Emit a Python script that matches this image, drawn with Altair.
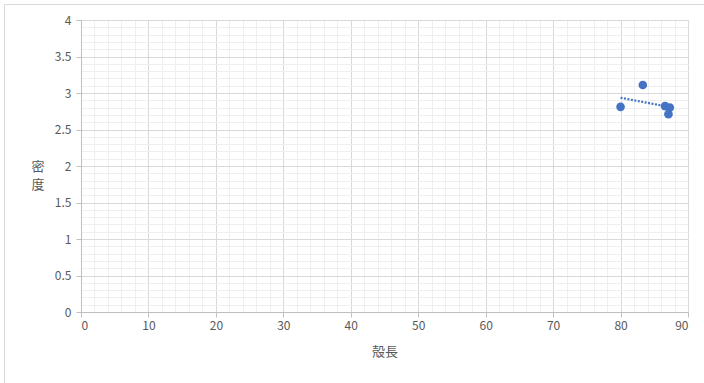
import altair as alt
import pandas as pd

shell_length = [80.0, 83.3, 86.6, 87.3, 87.1]
density = [2.81, 3.11, 2.82, 2.80, 2.71]
y_title = "密\n度"

df = pd.DataFrame({"x": shell_length, "y": density})

W, H = 607, 292
FONT = "Noto Sans CJK JP"
GRAY = "#595959"

xs = alt.Scale(domain=[0, 90], nice=False, zero=False)
ys = alt.Scale(domain=[0, 4], nice=False, zero=False)

base = alt.Chart(df)

minor = base.mark_point(opacity=0).encode(
    x=alt.X("x:Q", scale=xs, axis=alt.Axis(orient="bottom", values=list(range(0, 91, 2)), grid=True,
                                           gridColor="#efefef", labels=False, ticks=False, domain=False,
                                           title=None)),
    y=alt.Y("y:Q", scale=ys, axis=alt.Axis(orient="left", values=[i / 10 for i in range(0, 41)], grid=True,
                                           gridColor="#efefef", labels=False, ticks=False, domain=False,
                                           title=None)),
)

major = base.mark_point(opacity=0).encode(
    x=alt.X("x:Q", scale=xs, axis=alt.Axis(orient="bottom", values=list(range(0, 91, 10)), grid=True,
                                           gridColor="#d9d9d9", format="d",
                                           labelColor=GRAY, labelFontSize=12, labelFont=FONT,
                                           tickColor="#bfbfbf", tickSize=5, domainColor="#bfbfbf",
                                           labelPadding=3,
                                           title="殻長", titleColor=GRAY, titleFont=FONT,
                                           titleFontSize=13, titleFontWeight="normal", titlePadding=14)),
    y=alt.Y("y:Q", scale=ys, axis=alt.Axis(orient="left", values=[i / 2 for i in range(0, 9)], grid=True,
                                           gridColor="#d9d9d9", format="~g",
                                           labelColor=GRAY, labelFontSize=12, labelFont=FONT,
                                           tickColor="#bfbfbf", tickSize=5, domainColor="#bfbfbf",
                                           labelPadding=5, title=None)),
)

points = base.mark_circle(size=75, color="#4472c4", opacity=1).encode(
    x=alt.X("x:Q", axis=None), y=alt.Y("y:Q", axis=None))

trend = base.transform_regression("x", "y").mark_line(
    color="#4472c4", strokeDash=[2, 1.5], strokeWidth=2.2
).encode(x=alt.X("x:Q", axis=None), y=alt.Y("y:Q", axis=None))

border = alt.Chart(pd.DataFrame({"a": [0]})).mark_rect(
    fill=None, stroke="#d9d9d9", strokeWidth=1
).encode(x=alt.value(-76.5), x2=alt.value(700), y=alt.value(-15.5), y2=alt.value(400))

ytitle = alt.Chart(pd.DataFrame({"t": [y_title]})).mark_text(
    font=FONT, fontSize=13, color=GRAY, align="center", baseline="middle",
    lineBreak="\n", lineHeight=18
).encode(text="t:N", x=alt.value(-43), y=alt.value(147))

chart = alt.layer(border, minor, major, trend, points, ytitle).resolve_axis(
    x="independent", y="independent"
).properties(
    width=W, height=H,
    autosize=alt.AutoSizeParams(type="none"),
    padding={"left": 81, "top": 20, "right": 16, "bottom": 71},
    background="white",
).configure_view(stroke=None)

chart.save("out.html", embed_options={"renderer": "svg", "actions": False})
